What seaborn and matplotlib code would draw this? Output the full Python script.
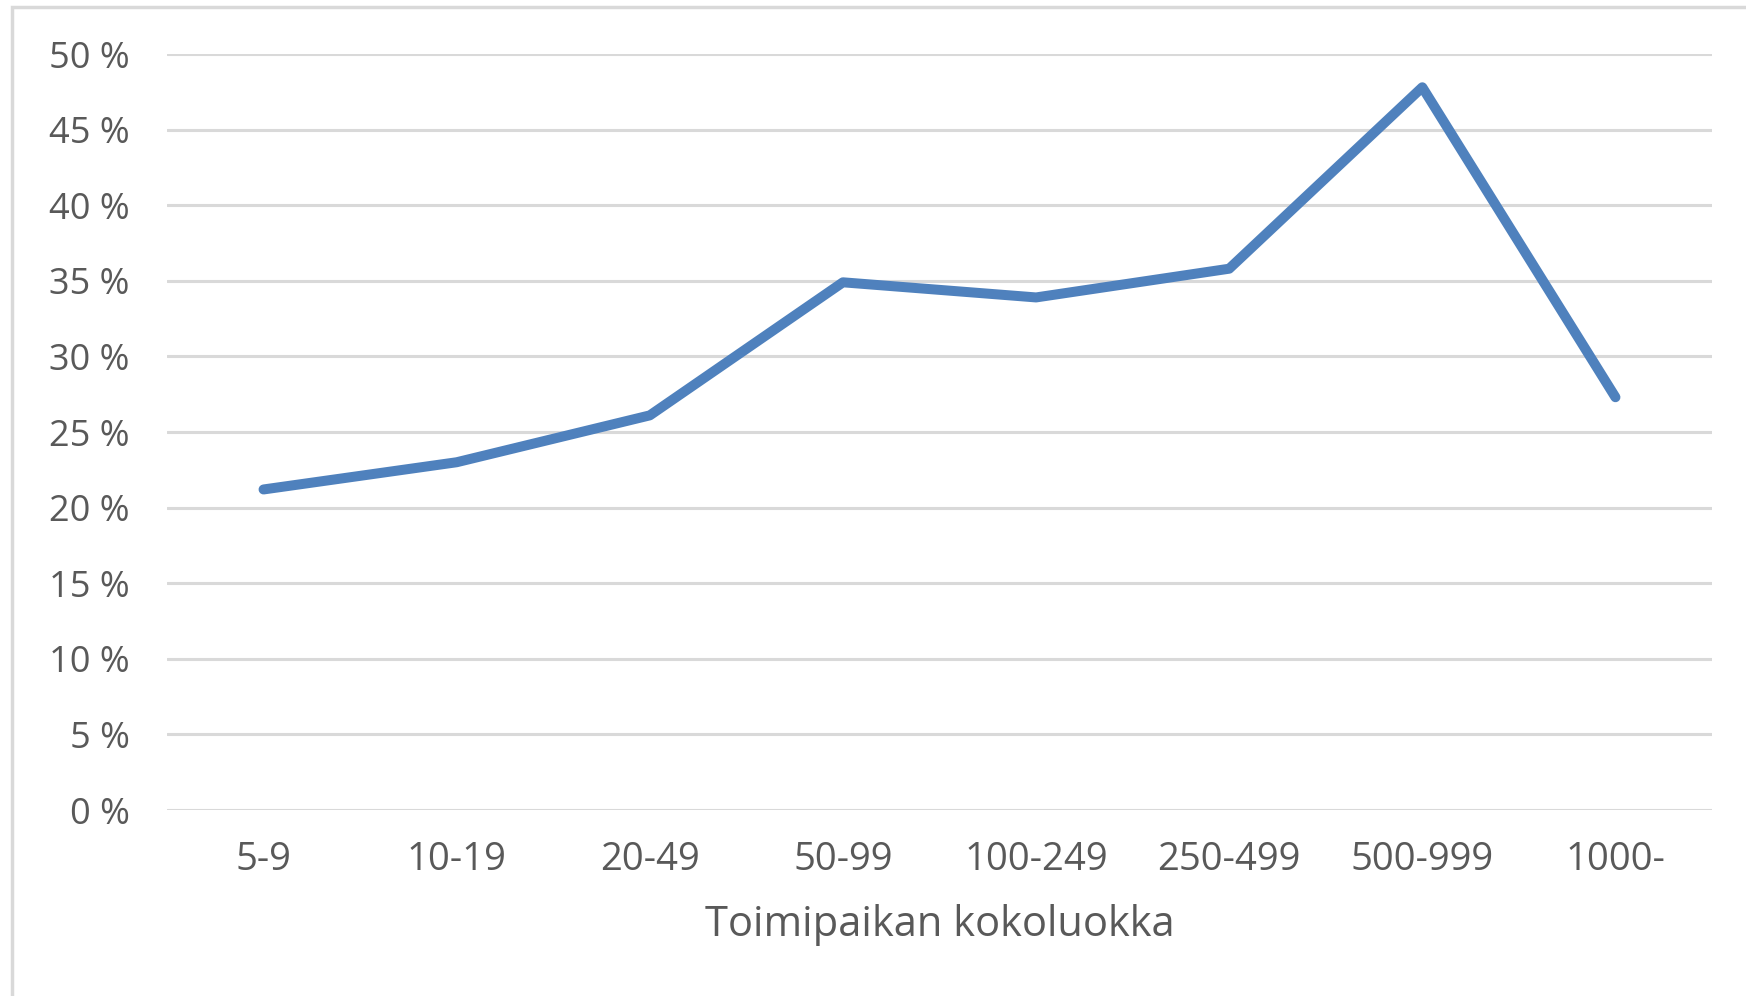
import matplotlib
matplotlib.use("Agg")
import matplotlib.pyplot as plt
import seaborn as sns
import pandas as pd
from matplotlib.patches import Rectangle

categories = ["5-9", "10-19", "20-49", "50-99", "100-249", "250-499", "500-999", "1000-"]
values = [21.2, 23.0, 26.1, 34.9, 33.9, 35.8, 47.8, 27.3]
yticks = [0, 5, 10, 15, 20, 25, 30, 35, 40, 45, 50]
ytick_labels = [f"{v} %" for v in yticks]
xlabel = "Toimipaikan kokoluokka"

sns.set_theme(style="white")
plt.rcParams["font.family"] = ["Open Sans", "DejaVu Sans"]

df = pd.DataFrame({"cat": categories, "val": values, "pos": range(len(categories))})

fig = plt.figure(figsize=(17.46, 9.96), dpi=100)
ax = fig.add_axes([167 / 1746, 1 - 810 / 996, (1712 - 167) / 1746, (810 - 54) / 996])

# figure frame
fig.patches.append(Rectangle((12 / 1746, -0.1), 1.2, 1 - 7 / 996 + 0.1, transform=fig.transFigure,
                             fill=False, edgecolor="#D9D9D9", linewidth=2.5, zorder=0))

for y in yticks:
    ax.axhline(y, color="#D9D9D9", linewidth=2.2, zorder=1)

sns.lineplot(data=df, x="pos", y="val", ax=ax, color="#4F81BD", linewidth=7.2,
             solid_capstyle="round", solid_joinstyle="round", zorder=3)

ax.set_xlim(-0.5, len(categories) - 0.5)
ax.set_ylim(0, 50)
ax.set_yticks(yticks)
ax.set_yticklabels(ytick_labels)
ax.set_xticks(range(len(categories)))
ax.set_xticklabels(categories)
ax.tick_params(axis="both", length=0, colors="#595959")
ax.tick_params(axis="y", pad=27, labelsize=26)
ax.tick_params(axis="x", pad=22, labelsize=27.5)
ax.set_xlabel(xlabel, fontsize=30, color="#595959", labelpad=18)
ax.set_ylabel("")
for s in ax.spines.values():
    s.set_visible(False)
ax.grid(False)

fig.savefig("out.png", dpi=100)
